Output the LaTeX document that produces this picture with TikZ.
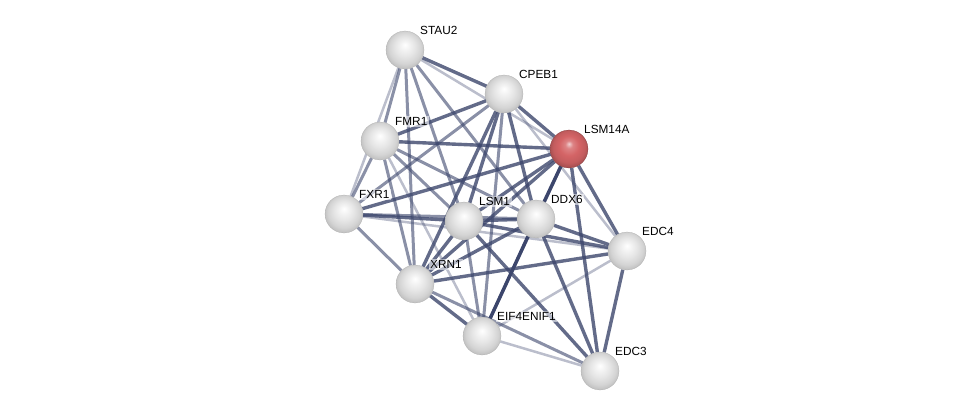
\documentclass[tikz,border=0pt]{standalone}
\usepackage{fontspec}
\setmainfont{Liberation Sans}
\usetikzlibrary{backgrounds}

\definecolor{edgecol}{RGB}{60,70,108}
\definecolor{hubred}{RGB}{212,100,102}

% glossy sphere shadings
\pgfdeclareradialshading{greyball}{\pgfpoint{0bp}{7bp}}{%
	color(0bp)=(white); color(5bp)=(gray!8); color(13bp)=(gray!20);
	color(21bp)=(gray!34); color(28bp)=(gray!55); color(34bp)=(gray!68)}
\pgfdeclareradialshading{redball}{\pgfpoint{0bp}{7bp}}{%
	color(0bp)=(hubred!30!white); color(5bp)=(hubred!80!white); color(13bp)=(hubred);
	color(21bp)=(hubred!92!black); color(28bp)=(hubred!72!black); color(34bp)=(hubred!55!black)}

\begin{document}
\begin{tikzpicture}[
			x=1pt, y=-1pt,
			protein/.style={
				circle,
				draw=gray!65,
				very thin,
				shading=greyball,
				minimum size=38pt,
				inner sep=0pt,
				label distance=0pt
			},
			hub/.style={
				protein,
				draw=hubred!60!black,
				shading=redball
			},
			lbl/.style={
				font=\fontsize{11.8}{13}\selectfont,
				text=black,
				fill=white,
				fill opacity=0.55,
				text opacity=1,
				inner sep=1.5pt
			},
			strong/.style={edgecol, line width=3.4pt, opacity=0.8},
			medium/.style={edgecol, line width=3pt, opacity=0.6},
			weak/.style={edgecol, line width=2.5pt, opacity=0.35}
			]

			\useasboundingbox (0,0) rectangle (975,417);

			% Proteins
			\node[protein, label={[lbl]45:STAU2}] (stau) at (405,50) {};
			\node[protein, label={[lbl]45:CPEB1}] (cpeb) at (504,94) {};
			\node[hub, label={[lbl]45:LSM14A}] (lsma) at (569,149) {};
			\node[protein, label={[lbl]45:FMR1}] (fmr) at (380,141) {};
			\node[protein, label={[lbl]45:FXR1}] (fxr) at (344,214) {};
			\node[protein, label={[lbl]45:LSM1}] (lsm) at (464,221) {};
			\node[protein, label={[lbl]45:DDX6}] (ddx) at (536,219) {};
			\node[protein, label={[lbl]45:EDC4}] (edcf) at (627,251) {};
			\node[protein, label={[lbl]45:XRN1}] (xrn) at (415,284) {};
			\node[protein, label={[lbl]45:EIF4ENIF1}] (eif) at (482,336) {};
			\node[protein, label={[lbl]45:EDC3}] (edct) at (600,371) {};

			\begin{scope}[on background layer]
				% STAU2 edges
				\draw[strong] (stau) -- (cpeb);
				\draw[weak] (stau) -- (lsma);
				\draw[medium] (stau) -- (fmr);
				\draw[weak] (stau) -- (fxr);
				\draw[medium] (stau) -- (xrn);
				\draw[medium] (stau) -- (lsm);
				\draw[medium] (stau) -- (ddx);

				% CPEB1 edges
				\draw[strong] (cpeb) -- (fmr);
				\draw[medium] (cpeb) -- (fxr);
				\draw[strong] (cpeb) -- (lsma);
				\draw[strong] (cpeb) -- (lsm);
				\draw[strong] (cpeb) -- (ddx);
				\draw[strong] (cpeb) -- (xrn);
				\draw[medium] (cpeb) -- (eif);
				\draw[weak] (cpeb) -- (edcf);

				% FMR1 edges
				\draw[strong] (fmr) -- (lsma);
				\draw[medium] (fmr) -- (fxr);
				\draw[medium] (fmr) -- (lsm);
				\draw[medium] (fmr) -- (ddx);
				\draw[medium] (fmr) -- (xrn);
				\draw[weak] (fmr) -- (eif);

				% FXR1 edges
				\draw[strong] (fxr) -- (lsma);
				\draw[strong] (fxr) -- (lsm);
				\draw[medium] (fxr) -- (ddx);
				\draw[medium] (fxr) -- (xrn);
				\draw[weak] (fxr) -- (edcf);

				% LSM14A edges
				\draw[strong] (lsma) -- (lsm);
				\draw[strong, opacity=1] (lsma) -- (ddx);
				\draw[strong] (lsma) -- (edcf);
				\draw[strong] (lsma) -- (edct);
				\draw[strong] (lsma) -- (xrn);
				\draw[medium] (lsma) -- (eif);

				% LSM1 edges
				\draw[strong] (lsm) -- (ddx);
				\draw[strong] (lsm) -- (edcf);
				\draw[strong] (lsm) -- (xrn);
				\draw[medium] (lsm) -- (eif);
				\draw[strong] (lsm) -- (edct);

				% DDX6 edges
				\draw[strong] (ddx) -- (edcf);
				\draw[strong] (ddx) -- (xrn);
				\draw[strong, opacity=1] (ddx) -- (eif);
				\draw[strong] (ddx) -- (edct);

				% remaining edges
				\draw[strong] (edcf) -- (xrn);
				\draw[weak] (edcf) -- (eif);
				\draw[strong] (edcf) -- (edct);
				\draw[strong] (xrn) -- (eif);
				\draw[medium] (xrn) -- (edct);
				\draw[weak] (eif) -- (edct);
			\end{scope}

		\end{tikzpicture}
\end{document}
